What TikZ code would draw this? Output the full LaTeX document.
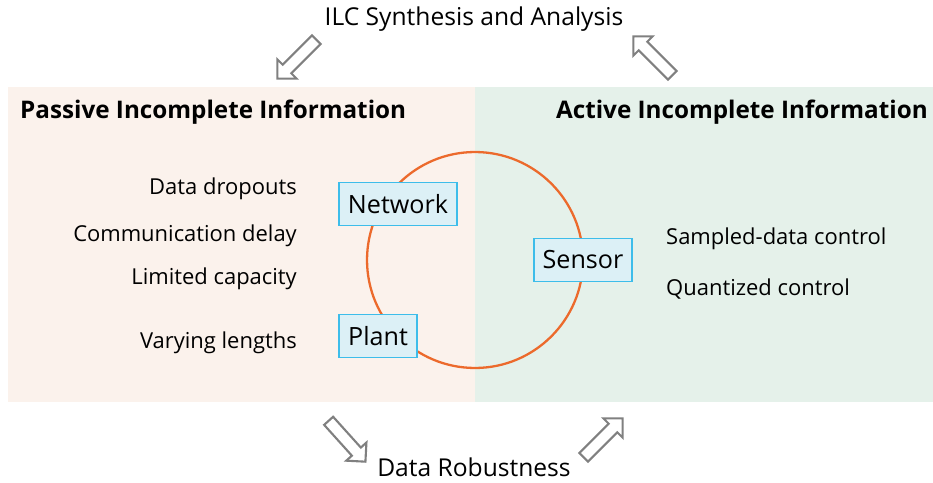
\documentclass[tikz,border=0pt]{standalone}
\usepackage{fontspec}
\setmainfont{Open Sans}
\usetikzlibrary{shapes.arrows}

\definecolor{passivebg}{HTML}{FBF2EC}
\definecolor{activebg}{HTML}{E5F1EA}
\definecolor{ringcol}{HTML}{EC6A2C}
\definecolor{boxfill}{HTML}{DCF0F6}
\definecolor{boxedge}{HTML}{3DBDEA}
\definecolor{arrowgray}{HTML}{808080}

\tikzset{
    blockbox/.style={draw=boxedge, fill=boxfill, line width=1pt, minimum height=0.86cm,
        inner xsep=0.18cm, font=\fontsize{14.3}{16}\selectfont},
    hollowarrow/.style={single arrow, draw=arrowgray, fill=white, line width=1.2pt,
        minimum height=1.1cm, inner sep=0.1cm, single arrow head extend=0.15cm},
    leftlabel/.style={anchor=east, font=\fontsize{12.5}{14}\selectfont},
    rightlabel/.style={anchor=west, font=\fontsize{12.5}{14}\selectfont},
    heading/.style={font=\fontsize{13.8}{16}\selectfont\bfseries},
}

\begin{document}
\begin{tikzpicture}[x=0.02cm, y=-0.02cm]
    \useasboundingbox (0,0) rectangle (933,483);
    % two halves
    \fill [passivebg] (8,87) rectangle (475,402);
    \fill [activebg] (475,87) rectangle (933,402);

    \node [heading, anchor=west] (passive) at (14,112) {Passive Incomplete Information};
    \node [heading, anchor=east] (active) at (934,112) {Active Incomplete Information};

    \node [font=\fontsize{14}{16}\selectfont] (synth) at (474,19) {ILC Synthesis and Analysis};
    \node [font=\fontsize{14}{16}\selectfont] (robust) at (474,467) {Data Robustness};

    % the loop
    \coordinate (ringc) at (475,260);
    \draw [ringcol, line width=1.3pt] (ringc) circle [radius=2.16cm];

    \node [blockbox] (network) at (398,204) {Network};
    \node [blockbox] (sensor) at (583,260) {Sensor};
    \node [blockbox] (plant) at (378,336) {Plant};

    % passive side
    \foreach \txt/\y/\nm in {Data dropouts/189/drop, Communication delay/236/delay,
                            Limited capacity/279/capac, Varying lengths/343/vary} {
        \node [leftlabel] (\nm) at (303,\y) {\txt};
    }
    % active side
    \foreach \txt/\y/\nm in {Sampled-data control/239/sampled, Quantized control/289/quant} {
        \node [rightlabel] (\nm) at (660,\y) {\txt};
    }

    % hollow arrows
    \node [hollowarrow, rotate=225] (arrsynl) at (299,57) {};
    \node [hollowarrow, rotate=135] (arrsynr) at (655,58) {};
    \node [hollowarrow, rotate=-48] (arrrobl) at (345,439) {};
    \node [hollowarrow, rotate=45] (arrrobr) at (601,440) {};
\end{tikzpicture}
\end{document}
